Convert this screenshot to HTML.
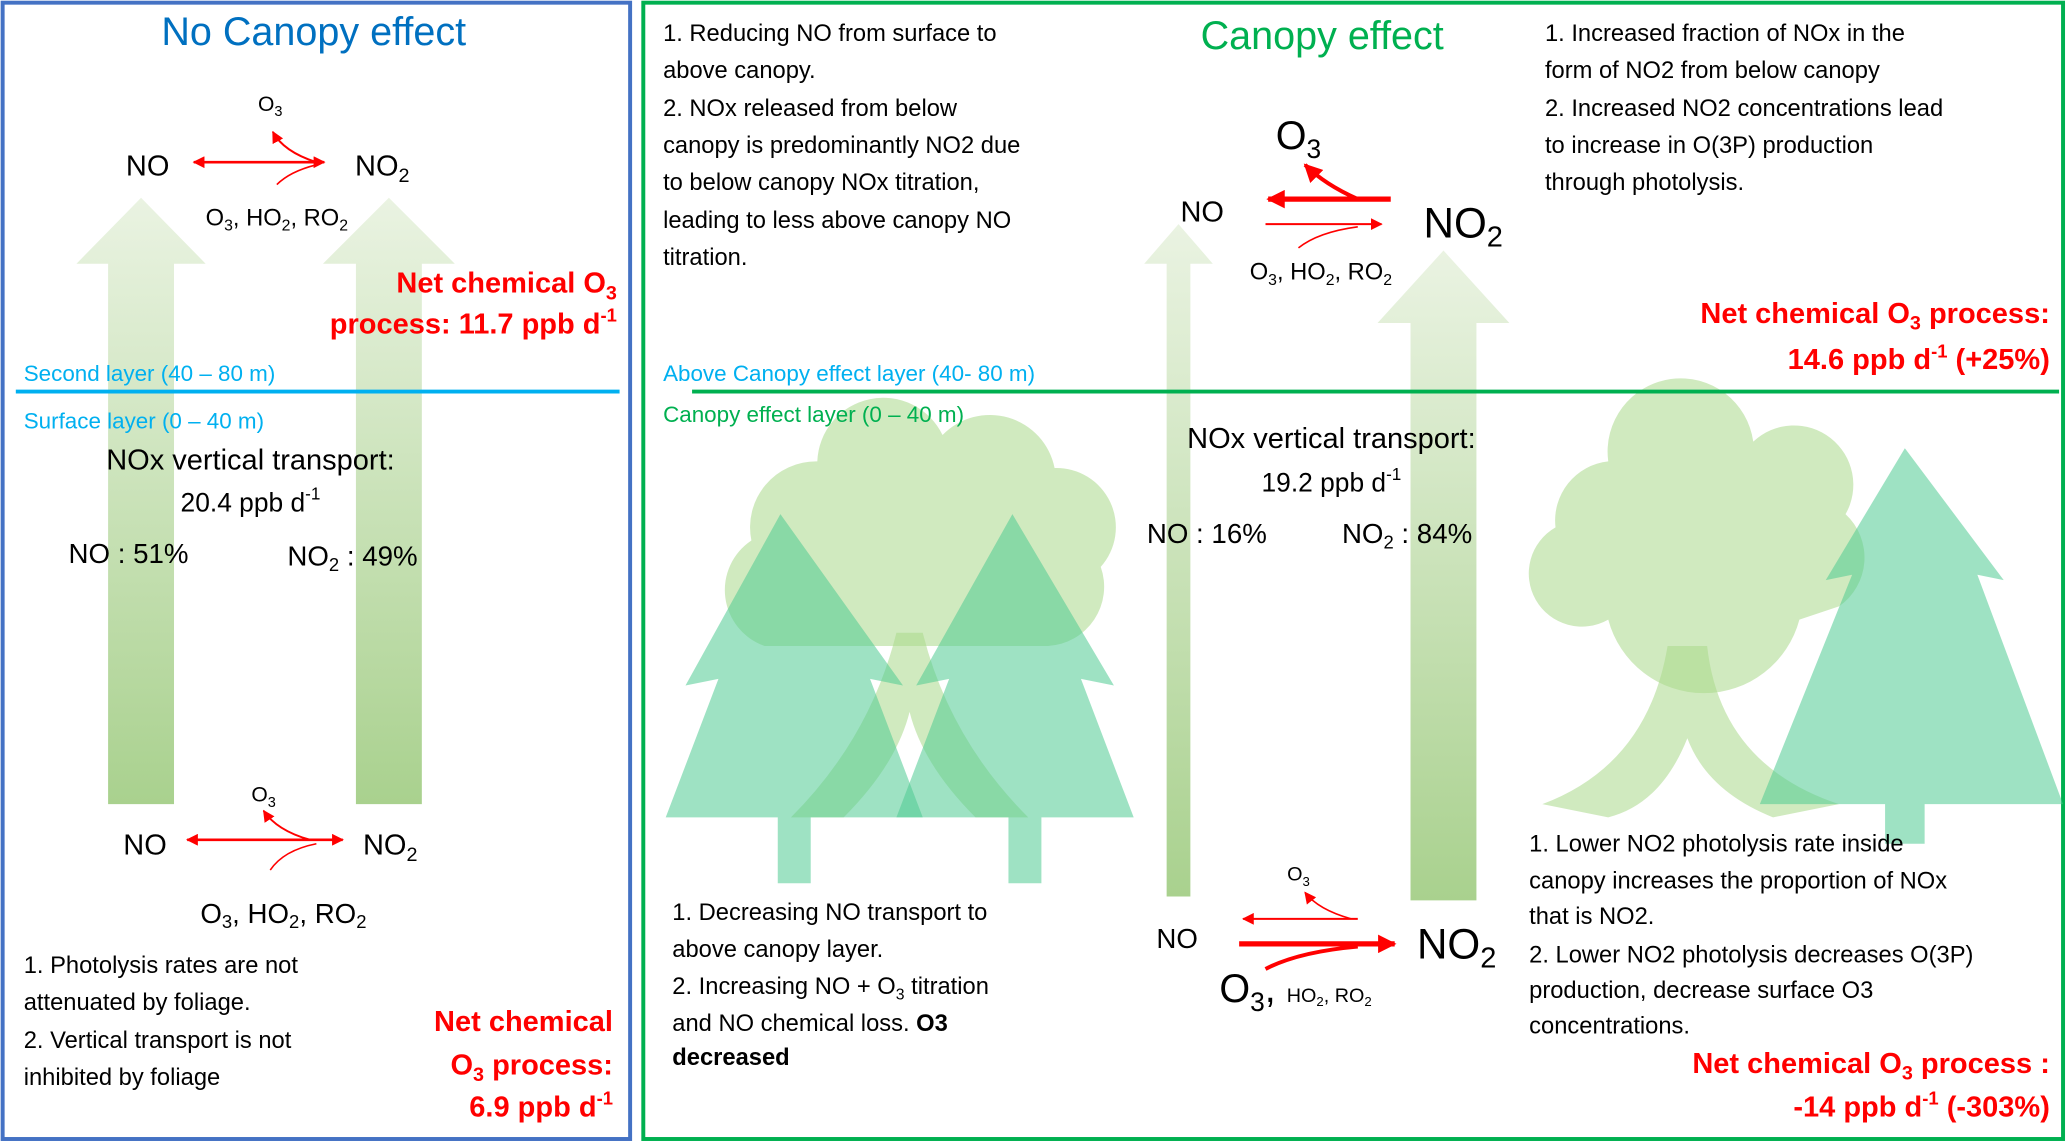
<!DOCTYPE html>
<html><head><meta charset="utf-8"><style>
html,body{margin:0;padding:0;background:#fff;}
svg{display:block;font-family:"Liberation Sans",sans-serif;}
.t{font-size:18px;fill:#000;}
.r{fill:#FF0000;font-weight:bold;font-size:22px;}
</style></head><body>
<svg width="2067" height="1143" viewBox="0 0 1568 867" xmlns="http://www.w3.org/2000/svg">
<defs>
<linearGradient id="g" x1="0" y1="0" x2="0" y2="1"><stop offset="0" stop-color="#EAF3E2"/><stop offset="1" stop-color="#A9D18E"/></linearGradient>
<marker id="ah" viewBox="0 0 10 10" refX="9" refY="5" markerWidth="9" markerHeight="9" markerUnits="userSpaceOnUse" orient="auto-start-reverse"><path d="M0,0 L10,5 L0,10 z" fill="#FF0000"/></marker>
<marker id="ahb" viewBox="0 0 10 10" refX="9" refY="5" markerWidth="14" markerHeight="14" markerUnits="userSpaceOnUse" orient="auto-start-reverse"><path d="M0,0 L10,5 L0,10 z" fill="#FF0000"/></marker>
</defs>
<rect x="2" y="2" width="476" height="862" fill="none" stroke="#4472C4" stroke-width="3"/>
<rect x="488" y="2" width="1077" height="862" fill="none" stroke="#00B050" stroke-width="3"/>

<!-- trees right panel -->
<g fill="#A9D98A" fill-opacity="0.55">
<path d="M620,350 a50,50 0 0 1 95,-20 a50,50 0 0 1 85,25 a45,45 0 0 1 35,75 a45,45 0 0 1 -40,60 l-215,0 a45,45 0 0 1 -10,-80 a50,50 0 0 1 50,-60z"/>
<path d="M600,620 q60,-60 80,-140 l20,0 q20,80 80,140 l-40,0 q-40,-40 -50,-80 q-10,40 -50,80z"/>
<path d="M1220,350 a55,55 0 0 1 110,-15 a45,45 0 0 1 70,55 a45,45 0 0 1 -5,70 l-30,10 a75,75 0 0 1 -145,0 a40,40 0 0 1 -40,-70 a45,45 0 0 1 40,-50z"/>
<path d="M1170,610 q80,-30 95,-120 l30,0 q10,90 100,120 l-50,10 q-50,-20 -65,-60 q-20,50 -60,60z"/>
</g>
<g fill="#4FCB91" fill-opacity="0.55">
<path d="M592,390 L520,520 L545,515 L505,620 L590,620 L590,670 L615,670 L615,620 L700,620 L660,515 L685,520z"/>
<path d="M768,390 L695,520 L720,515 L680,620 L765,620 L765,670 L790,670 L790,620 L860,620 L820,515 L845,520z"/>
<path d="M1445,340 L1385,440 L1405,436 L1335,610 L1430,610 L1430,640 L1460,640 L1460,610 L1565,610 L1500,436 L1520,440z"/>
</g>

<!-- left panel arrows -->
<path d="M82,610 L82,200 L58,200 L107,150 L156,200 L132,200 L132,610z" fill="url(#g)"/>
<path d="M270,610 L270,200 L245,200 L295,150 L345,200 L320,200 L320,610z" fill="url(#g)"/>
<!-- right panel arrows -->
<path d="M885,680 L885,200 L868,200 L894,170 L920,200 L903,200 L903,680z" fill="url(#g)"/>
<path d="M1070,683 L1070,245 L1045,245 L1095,190 L1145,245 L1120,245 L1120,683z" fill="url(#g)"/>

<!-- left top chem -->
<text x="205" y="84" font-size="16" text-anchor="middle">O<tspan font-size="11" dy="4">3</tspan></text>
<text x="112" y="133" font-size="22" text-anchor="middle">NO</text>
<text x="290" y="133" font-size="22" text-anchor="middle">NO<tspan font-size="15" dy="5">2</tspan></text>
<line x1="147" y1="123" x2="246" y2="123" stroke="#f00" stroke-width="2" marker-start="url(#ah)" marker-end="url(#ah)"/>
<path d="M240,123 Q215,115 207,100" fill="none" stroke="#f00" stroke-width="1.5" marker-end="url(#ah)"/>
<path d="M210,140 Q220,130 240,125" fill="none" stroke="#f00" stroke-width="1.2"/>
<text x="210" y="171" font-size="18" text-anchor="middle">O<tspan font-size="12" dy="4">3</tspan><tspan dy="-4">, HO</tspan><tspan font-size="12" dy="4">2</tspan><tspan dy="-4">, RO</tspan><tspan font-size="12" dy="4">2</tspan></text>
<text x="468" y="222" class="r" text-anchor="end">Net chemical O<tspan font-size="15" dy="5">3</tspan></text>
<text x="468" y="253" class="r" text-anchor="end">process: 11.7 ppb  d<tspan font-size="14" dy="-9">-1</tspan></text>
<text x="18" y="289" font-size="17" fill="#00B0F0">Second layer (40 – 80 m)</text>
<line x1="12" y1="297" x2="470" y2="297" stroke="#00B0F0" stroke-width="3"/>
<text x="18" y="325" font-size="17" fill="#00B0F0">Surface layer (0 – 40 m)</text>
<text x="190" y="356" font-size="22" text-anchor="middle">NOx vertical transport:</text>
<text x="190" y="388" font-size="20" text-anchor="middle">20.4 ppb d<tspan font-size="13" dy="-9">-1</tspan></text>
<text x="52" y="427" font-size="21">NO : 51%</text>
<text x="218" y="429" font-size="21">NO<tspan font-size="14" dy="4">2</tspan><tspan dy="-4"> : 49%</tspan></text>

<!-- left bottom chem -->
<text x="200" y="608" font-size="16" text-anchor="middle">O<tspan font-size="11" dy="4">3</tspan></text>
<text x="110" y="648" font-size="22" text-anchor="middle">NO</text>
<text x="296" y="648" font-size="22" text-anchor="middle">NO<tspan font-size="15" dy="5">2</tspan></text>
<line x1="142" y1="637" x2="260" y2="637" stroke="#f00" stroke-width="2" marker-start="url(#ah)" marker-end="url(#ah)"/>
<path d="M235,637 Q210,630 200,615" fill="none" stroke="#f00" stroke-width="1.5" marker-end="url(#ah)"/>
<path d="M205,660 Q215,645 240,640" fill="none" stroke="#f00" stroke-width="1.2"/>
<text x="215" y="700" font-size="21" text-anchor="middle">O<tspan font-size="14" dy="4">3</tspan><tspan dy="-4">, HO</tspan><tspan font-size="14" dy="4">2</tspan><tspan dy="-4">, RO</tspan><tspan font-size="14" dy="4">2</tspan></text>
<text class="t" x="18" y="738">1. Photolysis rates are not</text>
<text class="t" x="18" y="766">attenuated by foliage.</text>
<text class="t" x="18" y="795">2. Vertical transport is not</text>
<text class="t" x="18" y="823">inhibited by foliage</text>
<text x="465" y="782" class="r" text-anchor="end">Net chemical</text>
<text x="465" y="815" class="r" text-anchor="end">O<tspan font-size="15" dy="5">3</tspan><tspan dy="-5"> process:</tspan></text>
<text x="465" y="847" class="r" text-anchor="end">6.9 ppb  d<tspan font-size="14" dy="-9">-1</tspan></text>

<!-- titles -->
<text x="238" y="34" font-size="30" fill="#0070C0" text-anchor="middle">No Canopy effect</text>
<text x="1003" y="37" font-size="30" fill="#00B050" text-anchor="middle">Canopy effect</text>

<!-- right top texts -->
<text class="t" x="503" y="31">1. Reducing NO from surface to</text>
<text class="t" x="503" y="59">above canopy.</text>
<text class="t" x="503" y="88">2. NOx released from below</text>
<text class="t" x="503" y="116">canopy is predominantly NO2 due</text>
<text class="t" x="503" y="144">to below canopy NOx titration,</text>
<text class="t" x="503" y="173">leading to less above canopy NO</text>
<text class="t" x="503" y="201">titration.</text>
<text class="t" x="1172" y="31">1. Increased fraction of NOx in the</text>
<text class="t" x="1172" y="59">form of NO2 from below canopy</text>
<text class="t" x="1172" y="88">2. Increased NO2 concentrations lead</text>
<text class="t" x="1172" y="116">to increase in O(3P) production</text>
<text class="t" x="1172" y="144">through photolysis.</text>
<text x="985" y="113" font-size="30" text-anchor="middle">O<tspan font-size="20" dy="7">3</tspan></text>
<text x="912" y="168" font-size="22" text-anchor="middle">NO</text>
<text x="1110" y="180" font-size="32" text-anchor="middle">NO<tspan font-size="22" dy="7">2</tspan></text>
<line x1="1055" y1="151" x2="962" y2="151" stroke="#f00" stroke-width="4" marker-end="url(#ahb)"/>
<path d="M1030,151 Q1005,140 990,125" fill="none" stroke="#f00" stroke-width="3" marker-end="url(#ahb)"/>
<line x1="960" y1="170" x2="1048" y2="170" stroke="#f00" stroke-width="1.5" marker-end="url(#ah)"/>
<path d="M985,188 Q1000,176 1030,172" fill="none" stroke="#f00" stroke-width="1.2"/>
<text x="1002" y="212" font-size="18" text-anchor="middle">O<tspan font-size="12" dy="4">3</tspan><tspan dy="-4">, HO</tspan><tspan font-size="12" dy="4">2</tspan><tspan dy="-4">, RO</tspan><tspan font-size="12" dy="4">2</tspan></text>
<text x="1555" y="245" class="r" text-anchor="end">Net chemical O<tspan font-size="15" dy="5">3</tspan><tspan dy="-5"> process:</tspan></text>
<text x="1555" y="280" class="r" text-anchor="end">14.6 ppb d<tspan font-size="14" dy="-9">-1</tspan><tspan dy="9"> (+25%)</tspan></text>
<text x="503" y="289" font-size="17" fill="#00B0F0">Above Canopy effect  layer (40- 80 m)</text>
<line x1="525" y1="297" x2="1562" y2="297" stroke="#00B050" stroke-width="3"/>
<text x="503" y="320" font-size="17" fill="#00B050">Canopy effect  layer (0 – 40 m)</text>
<text x="1010" y="340" font-size="22" text-anchor="middle">NOx vertical transport:</text>
<text x="1010" y="373" font-size="20" text-anchor="middle">19.2 ppb d<tspan font-size="13" dy="-9">-1</tspan></text>
<text x="870" y="412" font-size="21">NO : 16%</text>
<text x="1018" y="412" font-size="21">NO<tspan font-size="14" dy="4">2</tspan><tspan dy="-4"> : 84%</tspan></text>

<!-- right bottom chem -->
<text x="985" y="668" font-size="15" text-anchor="middle">O<tspan font-size="10" dy="4">3</tspan></text>
<text x="893" y="719" font-size="21" text-anchor="middle">NO</text>
<text x="1105" y="727" font-size="32" text-anchor="middle">NO<tspan font-size="22" dy="7">2</tspan></text>
<line x1="1030" y1="697" x2="943" y2="697" stroke="#f00" stroke-width="1.5" marker-end="url(#ah)"/>
<path d="M1025,697 Q1000,690 990,677" fill="none" stroke="#f00" stroke-width="1.2" marker-end="url(#ah)"/>
<line x1="940" y1="716" x2="1058" y2="716" stroke="#f00" stroke-width="4" marker-end="url(#ahb)"/>
<path d="M960,735 Q985,722 1030,718" fill="none" stroke="#f00" stroke-width="3"/>
<text x="925" y="760" font-size="30">O<tspan font-size="20" dy="7">3</tspan><tspan dy="-7">, </tspan><tspan font-size="15">HO</tspan><tspan font-size="10" dy="3">2</tspan><tspan font-size="15" dy="-3">, RO</tspan><tspan font-size="10" dy="3">2</tspan></text>
<text class="t" x="510" y="698">1. Decreasing NO transport to</text>
<text class="t" x="510" y="726">above canopy layer.</text>
<text class="t" x="510" y="754">2. Increasing NO + O<tspan font-size="12" dy="4">3</tspan><tspan dy="-4"> titration</tspan></text>
<text class="t" x="510" y="782">and NO chemical loss. <tspan font-weight="bold">O3</tspan></text>
<text class="t" x="510" y="808" font-weight="bold">decreased</text>
<text class="t" x="1160" y="646">1. Lower NO2 photolysis rate inside</text>
<text class="t" x="1160" y="674">canopy increases the proportion of NOx</text>
<text class="t" x="1160" y="701">that is NO2.</text>
<text class="t" x="1160" y="730">2. Lower NO2 photolysis decreases O(3P)</text>
<text class="t" x="1160" y="757">production, decrease surface O3</text>
<text class="t" x="1160" y="784">concentrations.</text>
<text x="1555" y="814" class="r" text-anchor="end">Net chemical O<tspan font-size="15" dy="5">3</tspan><tspan dy="-5"> process :</tspan></text>
<text x="1555" y="847" class="r" text-anchor="end">-14 ppb d<tspan font-size="14" dy="-9">-1</tspan><tspan dy="9"> (-303%)</tspan></text>
</svg>
</body></html>
